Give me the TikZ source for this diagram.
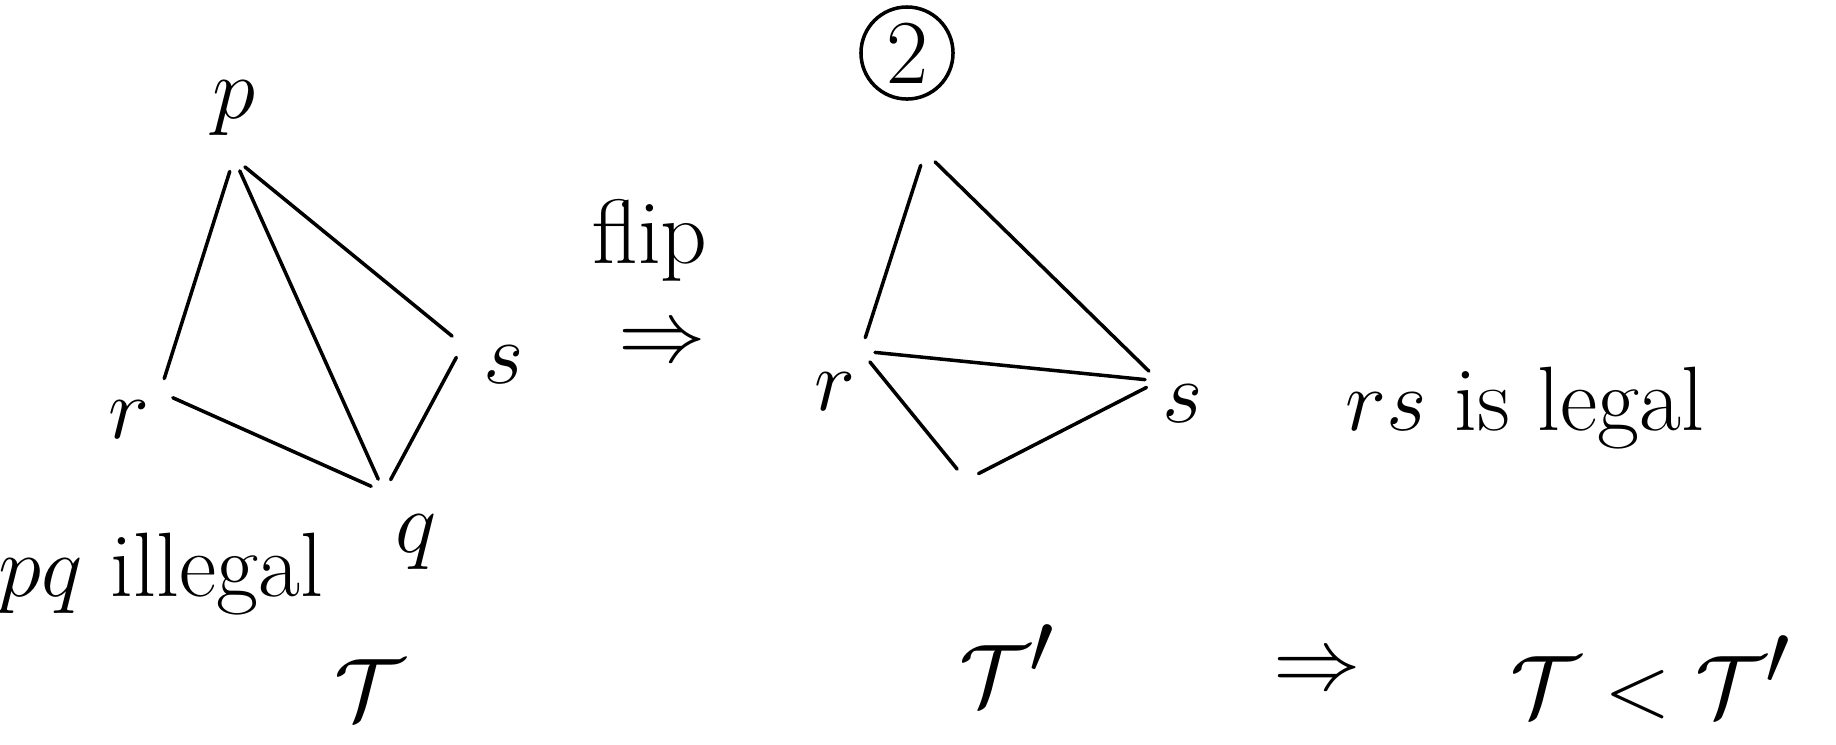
\documentclass[tikz,border=0pt]{standalone}
\usepackage{amsmath,amssymb}
\usetikzlibrary{arrows.meta,positioning,calc}

\begin{document}
\begin{tikzpicture}[x=0.01cm,y=-0.01cm,
    every node/.style={font=\fontsize{26}{30}\selectfont,inner sep=1pt},
    edge/.style={line width=1pt,line cap=round,shorten <=4pt,shorten >=4pt}]
  \useasboundingbox (0,0) rectangle (1836,744);
  %% Left quadrilateral
  \coordinate (p) at (234,158);
  \coordinate (r) at (160,392);
  \coordinate (s) at (463,345);
  \coordinate (q) at (384,492);
  \draw[edge] (p) -- (r);
  \draw[edge] (p) -- (s);
  \draw[edge] (p) -- (q);
  \draw[edge] (r) -- (q);
  \draw[edge] (s) -- (q);
  \node (plabel) at (234,108) {$p$};
  \node (rlabel) at (129,420) {$r$};
  \node (slabel) at (504,365) {$s$};
  \node (qlabel) at (416,542) {$q$};
  \node (illegal) at (161,574) {$pq$ illegal};
  \node[font=\fontsize{34}{38}\selectfont] (tri) at (369,690) {$\mathcal{T}$};
  %% Flip
  \node (flip) at (650,240) {flip};
  \node[font=\fontsize{30}{34}\selectfont,inner sep=0pt] (fliparrow) at (662,345) {$\Rightarrow$};
  \node[draw,circle,line width=1pt,minimum size=0.92cm,inner sep=0pt] (step2) at (907,53) {2};
  %% Right quadrilateral
  \coordinate (top) at (925,152);
  \coordinate (r2) at (861,351);
  \coordinate (s2) at (1159,381);
  \coordinate (bot) at (966,480);
  \draw[edge] (top) -- (r2);
  \draw[edge] (top) -- (s2);
  \draw[edge] (r2) -- (s2);
  \draw[edge] (r2) -- (bot);
  \draw[edge] (bot) -- (s2);
  \node (r2label) at (835,392) {$r$};
  \node (s2label) at (1183,404) {$s$};
  \node (legal) at (1525,408) {$rs$ is legal};
  \node[font=\fontsize{34}{38}\selectfont] (triflip) at (1007,665) {$\mathcal{T}'$};
  \node[font=\fontsize{34}{38}\selectfont] (implies) at (1317,673) {$\Rightarrow$};
  \node[font=\fontsize{34}{38}\selectfont] (order) at (1651,677) {$\mathcal{T}<\mathcal{T}'$};
\end{tikzpicture}
\end{document}
